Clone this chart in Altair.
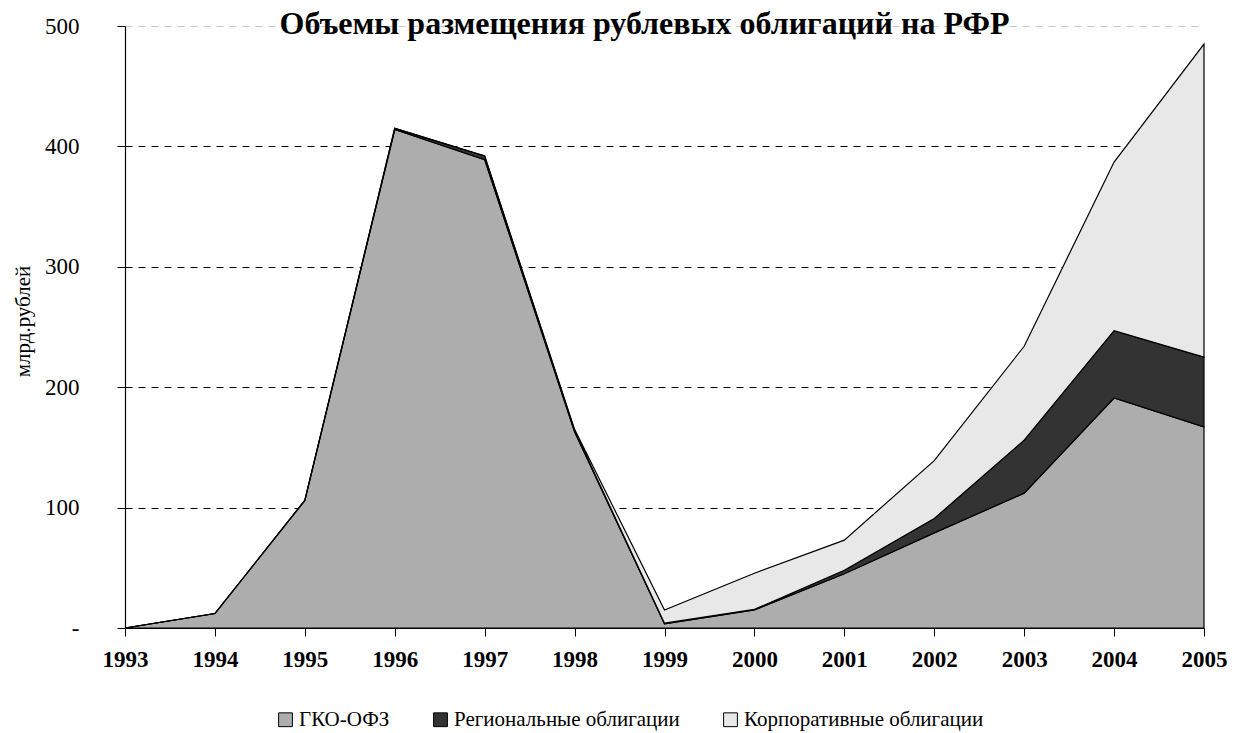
import altair as alt
import pandas as pd

years = ["1993", "1994", "1995", "1996", "1997", "1998", "1999", "2000", "2001", "2002", "2003", "2004", "2005"]
gko = [0, 12, 106, 414, 389, 163, 3.5, 15, 45, 79, 112, 191, 167]
regional = [0, 0, 0, 1, 3, 1, 0.5, 0.5, 3, 12, 44, 56, 58]
corporate = [0, 0, 0, 0, 0, 1, 11, 30, 25, 48, 78, 140, 260]
series_names = ["ГКО-ОФЗ", "Региональные облигации", "Корпоративные облигации"]
series_colors = ["#adadad", "#333333", "#e8e8e8"]

rows = []
for i, y in enumerate(years):
    for k, (name, vals) in enumerate(zip(series_names, [gko, regional, corporate])):
        rows.append({"year": y, "series": name, "value": vals[i], "ord": k})
df = pd.DataFrame(rows)

FONT = "Liberation Serif"

area = alt.Chart(df).mark_area(stroke="black", strokeWidth=1.2, opacity=1).encode(
    x=alt.X("year:O", scale=alt.Scale(type="point", padding=0),
            axis=alt.Axis(title=None, labelAngle=0, labelFont=FONT, labelFontSize=23,
                          labelFontWeight="bold", labelColor="black", tickSize=8,
                          tickColor="black", domainColor="black", labelPadding=12,
                          grid=False)),
    y=alt.Y("value:Q", stack="zero", scale=alt.Scale(domain=[0, 500], nice=False),
            axis=alt.Axis(title="млрд.рублей", titleFont=FONT, titleFontSize=21,
                          titleFontWeight="normal", titleColor="black",
                          titleX=-102, titleY=295, titleBaseline="middle",
                          values=[0, 100, 200, 300, 400, 500],
                          labelExpr="datum.value == 0 ? '-' : datum.label",
                          labelFont=FONT, labelFontSize=23, labelColor="black",
                          labelPadding=38, tickSize=8, tickColor="black",
                          domainColor="black", grid=True,
                          gridColor={"condition": {"test": "datum.value === 500", "value": "#c8c8c8"},
                                     "value": "black"},
                          gridDash=[7, 6], gridWidth=1)),
    color=alt.Color("series:N", scale=alt.Scale(domain=series_names, range=series_colors),
                    legend=alt.Legend(title=None, orient="none", direction="horizontal",
                                      legendX=150, legendY=683, symbolType="square",
                                      symbolSize=190, symbolStrokeColor="black",
                                      symbolStrokeWidth=1, labelFont=FONT,
                                      labelFontSize=21, labelColor="black", labelLimit=400,
                                      columnPadding=40, labelOffset=3)),
    order=alt.Order("ord:Q", sort="ascending"),
)

chart = area.properties(
    width=1079, height=602,
    title=alt.TitleParams("Объемы размещения рублевых облигаций на РФР", font=FONT,
                          fontSize=32, fontWeight="bold", color="black",
                          anchor="middle", dx=-20, dy=30),
    autosize=alt.AutoSizeParams(type="none"),
    padding={"left": 117, "top": 18, "right": 30, "bottom": 105},
).configure_view(stroke=None).configure_axis(domainWidth=1.2)

chart.save("out.html", embed_options={"renderer": "svg", "actions": False})
